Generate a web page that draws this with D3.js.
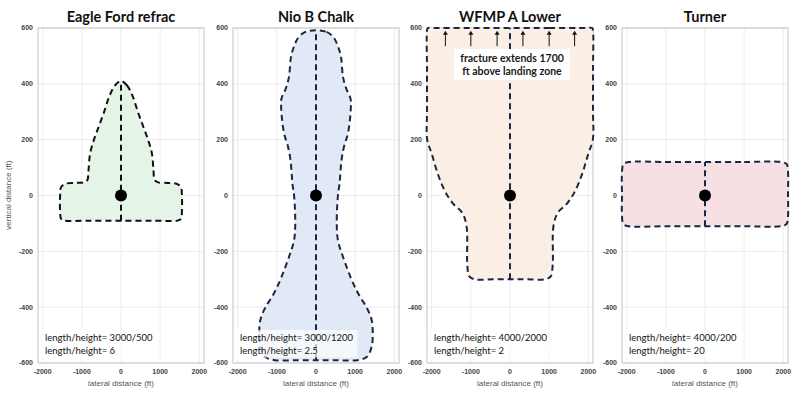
<!DOCTYPE html>
<html>
<head>
<meta charset="utf-8">
<script src="https://cdn.jsdelivr.net/npm/d3@7"></script>
<style>
body { margin: 0; background: #fff; }
</style>
</head>
<body>
<script>
// chart data
let titles = ["Eagle Ford refrac", "Nio B Chalk", "WFMP A Lower", "Turner"]
let ratioText = [
  ["length/height= 3000/500", "length/height= 6"],
  ["length/height= 3000/1200", "length/height= 2.5"],
  ["length/height= 4000/2000", "length/height= 2"],
  ["length/height= 4000/200", "length/height= 20"]
]
let xTicks = [-2000, -1000, 0, 1000, 2000]
let yTicks = [-600, -400, -200, 0, 200, 400, 600]

// right half of each fracture outline, top centre -> bottom centre, [x ft, y ft]
let eagleFord = [[0,410],[150,395],[300,355],[430,300],[560,250],[690,200],[790,150],[830,90],[860,55],[950,47],[1200,45],[1420,42],[1530,30],[1555,0],[1555,-60],[1530,-84],[1440,-90],[800,-90],[0,-90]]
let nioB = [[0,592],[270,586],[450,566],[560,535],[640,495],[690,425],[780,380],[880,348],[890,315],[820,225],[715,175],[650,125],[600,40],[560,0],[530,-100],[560,-160],[690,-220],[950,-315],[1120,-362],[1290,-400],[1420,-445],[1450,-495],[1420,-542],[1300,-578],[1050,-590],[500,-590],[0,-590]]
let wfmp = [[0,600],[1000,600],[1950,600],[2100,600],[2120,590],[2120,450],[2120,300],[2115,200],[2000,150],[1850,80],[1660,15],[1450,-30],[1220,-62],[1110,-110],[1090,-250],[1040,-290],[900,-300],[400,-300],[0,-300]]
let turner = [[0,120],[1000,120],[1950,120],[2085,112],[2120,85],[2120,0],[2120,-75],[2085,-102],[1950,-110],[1000,-110],[0,-110]]
let outlines = [eagleFord, nioB, wfmp, turner]

let noteLines = ["fracture extends 1700", "ft above landing zone"]
let arrowX = [-1650, -1000, -330, 330, 1000, 1650]
let arrowY = [535, 590]

// styles
let fills = ["#e4f4e7", "#e2e9f6", "#fbefe5", "#f7e0e3"]
let strokes = ["#111111", "#1c2640", "#1c2640", "#1c2640"]
let panelLeft = [38, 233, 427, 622]
let panelW = 166
let plotTop = 28, plotBottom = 363

let svg = d3.select("body").append("svg").attr("width", 800).attr("height", 393)

let y = d3.scaleLinear().domain([-600, 600]).range([plotBottom, plotTop])

function fullOutline(half) {
  let left = half.slice(1, -1).map(p => [-p[0], p[1]]).reverse()
  return half.concat(left)
}

for( let i=0; i<4; i++ ) {
  let L = panelLeft[i]
  let x = d3.scaleLinear().domain([-2120, 2120]).range([L, L + panelW])
  let g = svg.append("g")

  // grid
  g.selectAll(".gx").data(xTicks).join("line")
    .attr("x1", d => x(d)).attr("x2", d => x(d))
    .attr("y1", plotTop).attr("y2", plotBottom)
    .attr("stroke", "#e4e4e4").attr("stroke-width", 0.7)
  g.selectAll(".gy").data(yTicks).join("line")
    .attr("x1", L).attr("x2", L + panelW)
    .attr("y1", d => y(d)).attr("y2", d => y(d))
    .attr("stroke", "#e4e4e4").attr("stroke-width", 0.7)

  // box
  g.append("rect")
    .attr("x", L).attr("y", plotTop).attr("width", panelW).attr("height", plotBottom - plotTop)
    .attr("fill", "none").attr("stroke", "#c4c4c4").attr("stroke-width", 1)

  // fracture shape
  let pts = fullOutline(outlines[i])
  let line = d3.line().x(d => x(d[0])).y(d => y(d[1])).curve(d3.curveCatmullRomClosed.alpha(0.5))
  g.append("path")
    .attr("d", line(pts))
    .attr("fill", fills[i])
    .attr("stroke", strokes[i])
    .attr("stroke-width", 2)
    .attr("stroke-dasharray", "6,4")

  let ext = d3.extent(outlines[i].filter(p => p[0] == 0), p => p[1])
  g.append("line")
    .attr("x1", x(0)).attr("x2", x(0))
    .attr("y1", y(ext[0])).attr("y2", y(ext[1]))
    .attr("stroke", strokes[i]).attr("stroke-width", 2)
    .attr("stroke-dasharray", "6,4")

  g.append("circle").attr("cx", x(0)).attr("cy", y(0)).attr("r", 6).attr("fill", "#000")

  // ticks
  g.selectAll(".xt").data(xTicks).join("text")
    .attr("x", d => x(d)).attr("y", 374)
    .attr("text-anchor", "middle")
    .attr("font-family", "Liberation Sans, Arial, sans-serif")
    .attr("font-size", 7).attr("font-weight", "bold").attr("fill", "#444")
    .text(d => d)
  g.selectAll(".yt").data(yTicks).join("text")
    .attr("x", L - 5).attr("y", d => y(d)).attr("dy", "0.35em")
    .attr("text-anchor", "end")
    .attr("font-family", "Liberation Sans, Arial, sans-serif")
    .attr("font-size", 7).attr("font-weight", "bold").attr("fill", "#444")
    .text(d => d)

  g.append("text")
    .attr("x", L + panelW / 2).attr("y", 386)
    .attr("text-anchor", "middle")
    .attr("font-family", "Liberation Sans, Arial, sans-serif")
    .attr("font-size", 8).attr("fill", "#555")
    .text("lateral distance (ft)")

  g.append("text")
    .attr("x", L + panelW / 2).attr("y", 22)
    .attr("text-anchor", "middle")
    .attr("font-family", "Lato, sans-serif")
    .attr("font-size", 14.5).attr("font-weight", "bold").attr("fill", "#111")
    .text(titles[i])

  // length/height note
  let tg = g.append("g")
  let tbox = tg.append("rect")
  tg.selectAll("text").data(ratioText[i]).join("text")
    .attr("x", L + 7).attr("y", (d, j) => 341 + j * 12.5)
    .attr("font-family", "Lato, sans-serif")
    .attr("font-size", 9.5).attr("fill", "#111")
    .text(d => d)
  let bb = tg.node().getBBox()
  tbox.attr("x", bb.x - 4).attr("y", bb.y - 2).attr("width", bb.width + 8).attr("height", bb.height + 4)
    .attr("fill", "#fff").attr("fill-opacity", 0.7)

  if (i == 2) {
    g.selectAll(".arrow").data(arrowX).join("line")
      .attr("x1", d => x(d)).attr("x2", d => x(d))
      .attr("y1", y(arrowY[0])).attr("y2", y(arrowY[1]) + 3)
      .attr("stroke", "#111").attr("stroke-width", 1)
    g.selectAll(".head").data(arrowX).join("path")
      .attr("d", d => "M" + (x(d) - 2.5) + "," + (y(arrowY[1]) + 4) + "L" + x(d) + "," + y(arrowY[1]) + "L" + (x(d) + 2.5) + "," + (y(arrowY[1]) + 4) + "Z")
      .attr("fill", "#111")
    let ng = g.append("g")
    let nbox = ng.append("rect")
    ng.selectAll("text").data(noteLines).join("text")
      .attr("x", x(0) + 2).attr("y", (d, j) => 62 + j * 13)
      .attr("text-anchor", "middle")
      .attr("font-family", "Lato, sans-serif")
      .attr("font-size", 10.5).attr("font-weight", "bold").attr("fill", "#1a1a1a")
      .text(d => d)
    let nb = ng.node().getBBox()
    nbox.attr("x", nb.x - 6).attr("y", nb.y - 3).attr("width", nb.width + 12).attr("height", nb.height + 6)
      .attr("fill", "#fff")
  }
}

svg.append("text")
  .attr("transform", "translate(11,195) rotate(-90)")
  .attr("text-anchor", "middle")
  .attr("font-family", "Liberation Sans, Arial, sans-serif")
  .attr("font-size", 8).attr("fill", "#555")
  .text("vertical distance (ft)")
</script>
</body>
</html>
